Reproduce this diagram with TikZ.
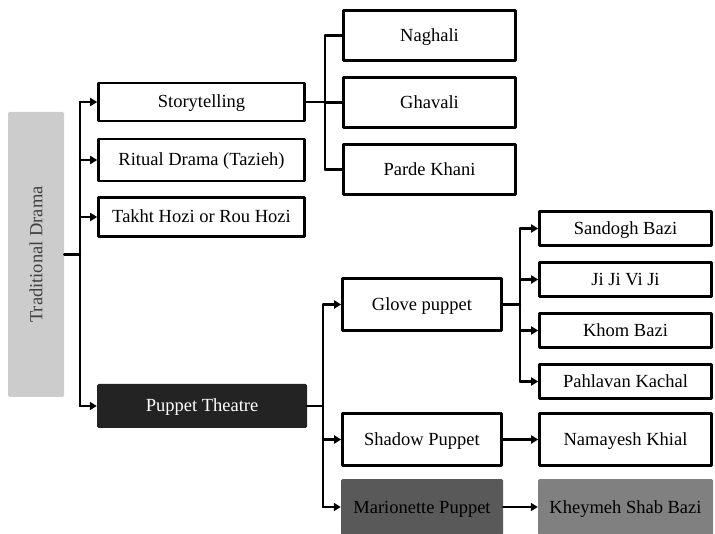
\documentclass[tikz,border=0pt]{standalone}
\usepackage{fontspec}
\setmainfont{Liberation Serif}
\usepackage{graphicx}
\usetikzlibrary{arrows.meta}
\definecolor{tdgray}{HTML}{CCCCCC}
\definecolor{pupdark}{HTML}{232323}
\definecolor{mariogray}{HTML}{595959}
\definecolor{kheygray}{HTML}{808080}
\begin{document}
\begin{tikzpicture}[x=1pt,y=-1pt,line cap=round,line join=round,
  font=\fontsize{18.5}{22}\selectfont,
  box/.style={draw,line width=2.6pt,fill=white,inner sep=0pt,text height=15pt,text depth=3pt},
  flat/.style={inner sep=0pt,rounded corners=1.5pt,text height=15pt,text depth=3pt},
  link/.style={line width=2.4pt},
  arr/.style={line width=2.4pt,-{Triangle[length=7pt,width=8pt]}}]
  \useasboundingbox (0,0) rectangle (715,534);
  % root
  \node[inner sep=0pt,rounded corners=1.5pt,fill=tdgray,text=black!75,minimum width=56,minimum height=285] (td) at (36,254.5) {\rotatebox{90}{Traditional Drama}};
  % first level
  \node[box,minimum width=206,minimum height=38] (story) at (201.5,102) {Storytelling};
  \node[box,minimum width=206,minimum height=42] (ritual) at (201.5,160) {Ritual Drama (Tazieh)};
  \node[box,minimum width=206,minimum height=39] (takht) at (201.5,217) {Takht Hozi or Rou Hozi};
  \node[flat,fill=pupdark,text=white,minimum width=210,minimum height=44] (pup) at (202,406) {Puppet Theatre};
  % storytelling
  \node[box,minimum width=172,minimum height=50] (nag) at (429.5,35.5) {Naghali};
  \node[box,minimum width=172,minimum height=50] (ghav) at (429.5,102.5) {Ghavali};
  \node[box,minimum width=172,minimum height=50] (parde) at (429.5,169.5) {Parde Khani};
  % puppet theatre
  \node[box,minimum width=159,minimum height=52] (glove) at (422,304.5) {Glove puppet};
  \node[box,minimum width=159,minimum height=52] (shadow) at (422,439.5) {Shadow Puppet};
  \node[flat,fill=mariogray,minimum width=162,minimum height=56] (mario) at (422,507) {Marionette Puppet};
  % glove puppet
  \node[box,minimum width=172,minimum height=34] (sand) at (625.5,228.5) {Sandogh Bazi};
  \node[box,minimum width=172,minimum height=34] (jiji) at (625.5,279.5) {Ji Ji Vi Ji};
  \node[box,minimum width=172,minimum height=34] (khom) at (625.5,330.5) {Khom Bazi};
  \node[box,minimum width=172,minimum height=34] (pahl) at (625.5,381.5) {Pahlavan Kachal};
  \node[box,minimum width=172,minimum height=52] (nama) at (625.5,439.5) {Namayesh Khial};
  \node[flat,fill=kheygray,minimum width=175,minimum height=56] (khey) at (625.5,507) {Kheymeh Shab Bazi};
  % connectors
  \coordinate (tr1) at (80,254.5);
  \coordinate (tr2) at (325,102);
  \coordinate (tr3) at (323,406);
  \coordinate (tr4) at (520,304.5);
  \draw[link] (td.east) -- (tr1);
  \draw[link] (story.west -| tr1) -- (pup.west -| tr1);
  \foreach \n in {story,ritual,takht,pup}
    \draw[arr] (\n.west -| tr1) -- (\n.west);
  \draw[link] (story.east) -- (tr2);
  \draw[link] (nag.west -| tr2) -- (parde.west -| tr2);
  \foreach \n in {nag,ghav,parde}
    \draw[link] (\n.west -| tr2) -- (\n.west);
  \draw[link] (pup.east) -- (tr3);
  \draw[link] (glove.west -| tr3) -- (mario.west -| tr3);
  \foreach \n in {glove,shadow,mario}
    \draw[arr] (\n.west -| tr3) -- (\n.west);
  \draw[link] (glove.east) -- (tr4);
  \draw[link] (sand.west -| tr4) -- (pahl.west -| tr4);
  \foreach \n in {sand,jiji,khom,pahl}
    \draw[arr] (\n.west -| tr4) -- (\n.west);
  \draw[arr] (shadow) -- (nama);
  \draw[arr] (mario) -- (khey);
\end{tikzpicture}
\end{document}
